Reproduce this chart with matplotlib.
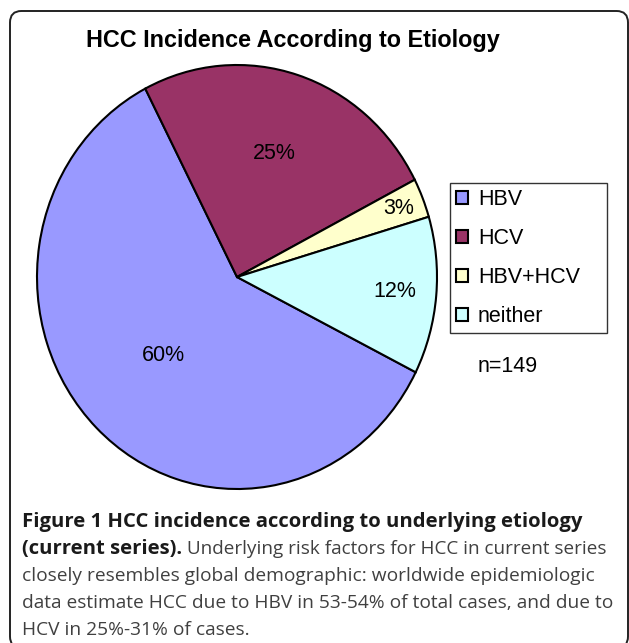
import numpy as np
import matplotlib
matplotlib.use("Agg")
from matplotlib import pyplot as plt
from matplotlib.patches import FancyBboxPatch

W, H = 629, 643

# data
categories = ["HBV", "HCV", "HBV+HCV", "neither"]
shares = [60, 25, 3, 12]
colors = ["#9999FF", "#993366", "#FFFFCC", "#CCFFFF"]
labelRadius = [0.52, 0.61, 0.87, 0.79]

title = "HCC Incidence According to Etiology"
note = "n=149"
captionBold1 = "Figure 1 HCC incidence according to underlying etiology"
captionBold2 = "(current series)."
captionLines = [" Underlying risk factors for HCC in current series",
                "closely resembles global demographic: worldwide epidemiologic",
                "data estimate HCC due to HBV in 53-54% of total cases, and due to",
                "HCV in 25%-31% of cases."]

plt.rcParams['font.family'] = ['Liberation Sans', 'DejaVu Sans']

fig = plt.figure(figsize=(W / 100, H / 100), dpi=100)


def fx(px):
    return px / W


def fy(py):
    return 1 - py / H


# rounded frame around the figure panel
frame = FancyBboxPatch((fx(10), fy(648)), fx(618), (648 - 11) / H,
                       boxstyle="round,pad=0,rounding_size=0.018",
                       transform=fig.transFigure, facecolor="none",
                       edgecolor="#222222", linewidth=1.4, zorder=5)
fig.patches.append(frame)

# pie axes: slightly taller than wide, like the original
ax = fig.add_axes([fx(37), fy(489), 400 / W, 424 / H])
wedges, _ = ax.pie(shares, colors=colors, startangle=-26.7, counterclock=False,
                   wedgeprops=dict(edgecolor="black", linewidth=1.5))
ax.set_aspect('auto')
ax.set_xlim(-1, 1)
ax.set_ylim(-1, 1)
ax.axis('off')

for i, w in enumerate(wedges):
    mid = np.deg2rad((w.theta1 + w.theta2) / 2)
    r = labelRadius[i]
    ax.text(r * np.cos(mid), r * np.sin(mid), f"{shares[i]}%",
            ha='center', va='center', fontsize=15.5, color="black")

fig.text(fx(293), fy(40), title, ha='center', va='center', fontsize=16.8,
         fontweight='bold')

leg = fig.legend(wedges, categories, loc='upper left',
                 bbox_to_anchor=(fx(450), fy(183), 157 / W, 0.0001),
                 mode='expand', fontsize=15.5,
                 frameon=True, fancybox=False, edgecolor="black",
                 handlelength=0.55, handleheight=0.55, handletextpad=0.45,
                 labelspacing=0.83, borderpad=0.3, borderaxespad=0)
leg.get_frame().set_linewidth(1.0)

fig.text(fx(508), fy(366), note, ha='center', va='center', fontsize=15.5)

# caption
capFont = ['Open Sans', 'DejaVu Sans']
lineY = [522, 549, 576, 603, 630]
fig.text(fx(22), fy(lineY[0]), captionBold1, ha='left', va='center',
         fontsize=14.6, fontweight='bold', family=capFont, color="#1a1a1a")
t2 = fig.text(fx(22), fy(lineY[1]), captionBold2, ha='left', va='center',
              fontsize=14.6, fontweight='bold', family=capFont, color="#1a1a1a")
fig.canvas.draw()
bb = t2.get_window_extent()
fig.text(bb.x1 / W, fy(lineY[1]), captionLines[0], ha='left', va='center',
         fontsize=13.6, family=capFont, color="#404040")
for y, line in zip(lineY[2:], captionLines[1:]):
    fig.text(fx(22), fy(y), line, ha='left', va='center', fontsize=13.8,
             family=capFont, color="#404040")

fig.savefig("out.png", dpi=100)
